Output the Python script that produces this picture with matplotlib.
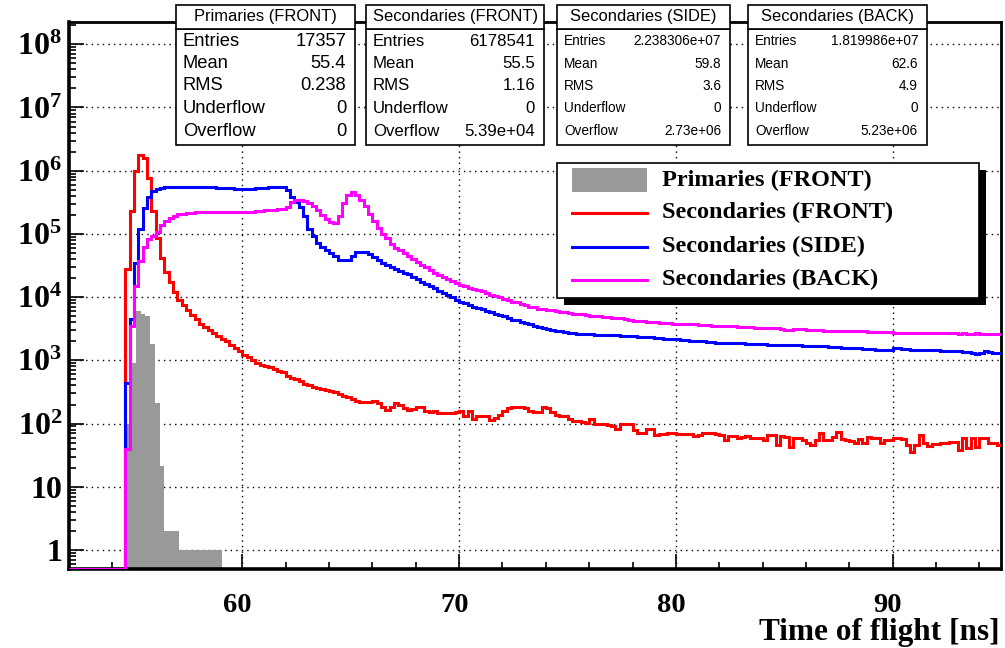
import numpy as np
import matplotlib
matplotlib.use("Agg")
import matplotlib.pyplot as plt
import matplotlib.transforms as mtransforms
from matplotlib.patches import Rectangle
from matplotlib.lines import Line2D
from matplotlib.ticker import FixedLocator, MultipleLocator, LogLocator, NullFormatter, FuncFormatter

plt.rcParams["mathtext.fontset"] = "custom"
plt.rcParams["mathtext.rm"] = "Liberation Serif:bold"
plt.rcParams["mathtext.bf"] = "Liberation Serif:bold"
plt.rcParams["mathtext.default"] = "rm"

# ------------------ data (counts per 0.2 ns bin, first filled bin 54.6 ns) ------------------
t_low = 52.0
bin_w = 0.2
n_empty = 13          # empty bins between 52.0 and 54.6 ns

red_counts = [
    2.8e4, 2.3e5, 1.0e6, 1.8e6, 1.6e6, 7.8e5, 2.3e5, 8.7e4, 4.1e4, 2.5e4,
    1.75e4, 1.2e4, 8.9e3, 7.6e3, 6.3e3, 5.2e3, 4.5e3, 3.8e3, 3.4e3, 3.0e3,
    2.7e3, 2.4e3, 2.2e3, 2.0e3, 1.74e3, 1.55e3, 1.38e3, 1.23e3, 1.12e3, 1.02e3,
    910, 850, 810, 780, 740, 690, 650, 575, 525, 500,
    470, 430, 410, 380, 370, 355, 340, 325, 310, 295,
    275, 265, 245, 230, 220, 220, 220, 225, 215, 185,
    165, 185, 215, 200, 175, 165, 170, 185, 180, 160,
    150, 160, 148, 145, 145, 145, 155, 160, 132, 160,
    120, 132, 132, 132, 112, 123, 138, 158, 178, 186,
    186, 186, 178, 158, 155, 151, 186, 178, 155, 138,
    132, 132, 120, 110, 110, 107, 102, 120, 98, 100,
    100, 95, 93, 83, 100, 100, 98, 79, 71, 71,
    83, 81, 66, 69, 69, 71, 71, 68, 68, 68,
    68, 63, 66, 72, 72, 71, 69, 66, 54, 63,
    63, 60, 62, 63, 60, 60, 60, 54, 66, 66,
    46, 63, 62, 42, 60, 58, 55, 49, 46, 55,
    71, 55, 55, 62, 74, 56, 54, 52, 50, 56,
    50, 62, 60, 60, 49, 54, 54, 60, 58, 56,
    46, 35, 46, 66, 49, 44, 47, 47, 49, 50,
    51, 51, 38, 60, 41, 60, 43, 60, 60, 49,
    49, 46,
]

blue_counts = [
    440, 4.5e3, 3.5e4, 1.2e5, 2.6e5, 3.9e5, 4.7e5, 5.1e5, 5.3e5, 5.5e5,
    5.6e5, 5.6e5, 5.6e5, 5.6e5, 5.6e5, 5.55e5, 5.5e5, 5.5e5, 5.5e5, 5.5e5,
    5.5e5, 5.4e5, 5.4e5, 5.4e5, 5.3e5, 5.2e5, 5.2e5, 5.1e5, 5.1e5, 5.2e5,
    5.3e5, 5.4e5, 5.4e5, 5.5e5, 5.6e5, 5.6e5, 5.5e5, 5.0e5, 3.9e5, 3.2e5,
    2.7e5, 1.9e5, 1.2e5, 9.1e4, 7.2e4, 6.3e4, 5.6e4, 5.0e4, 4.4e4, 3.9e4,
    3.8e4, 3.8e4, 4.4e4, 5.1e4, 5.2e4, 5.1e4, 4.8e4, 4.3e4, 3.8e4, 3.5e4,
    3.2e4, 2.95e4, 2.75e4, 2.6e4, 2.4e4, 2.3e4, 2.1e4, 1.95e4, 1.74e4, 1.6e4,
    1.48e4, 1.38e4, 1.26e4, 1.17e4, 1.07e4, 1.0e4, 9.1e3, 8.5e3, 8.1e3, 7.6e3,
    7.1e3, 6.8e3, 6.5e3, 6.0e3, 5.75e3, 5.4e3, 5.2e3, 5.0e3, 4.7e3, 4.4e3,
    4.3e3, 4.1e3, 3.9e3, 3.7e3, 3.55e3, 3.4e3, 3.25e3, 3.15e3, 3.0e3, 2.95e3,
    2.9e3, 2.8e3, 2.75e3, 2.7e3, 2.65e3, 2.6e3, 2.6e3, 2.6e3, 2.55e3, 2.55e3,
    2.55e3, 2.5e3, 2.5e3, 2.5e3, 2.45e3, 2.45e3, 2.45e3, 2.4e3, 2.35e3, 2.35e3,
    2.3e3, 2.3e3, 2.25e3, 2.25e3, 2.2e3, 2.2e3, 2.15e3, 2.15e3, 2.1e3, 2.1e3,
    2.05e3, 2.05e3, 2.0e3, 2.0e3, 1.95e3, 1.95e3, 1.9e3, 1.9e3, 1.9e3, 1.85e3,
    1.85e3, 1.85e3, 1.85e3, 1.8e3, 1.8e3, 1.8e3, 1.8e3, 1.8e3, 1.78e3, 1.78e3,
    1.78e3, 1.76e3, 1.74e3, 1.74e3, 1.74e3, 1.72e3, 1.7e3, 1.7e3, 1.7e3, 1.68e3,
    1.66e3, 1.66e3, 1.62e3, 1.62e3, 1.62e3, 1.58e3, 1.58e3, 1.55e3, 1.55e3, 1.55e3,
    1.52e3, 1.52e3, 1.5e3, 1.48e3, 1.48e3, 1.48e3, 1.48e3, 1.55e3, 1.55e3, 1.52e3,
    1.5e3, 1.48e3, 1.48e3, 1.48e3, 1.45e3, 1.45e3, 1.44e3, 1.44e3, 1.42e3, 1.42e3,
    1.4e3, 1.38e3, 1.38e3, 1.35e3, 1.35e3, 1.3e3, 1.25e3, 1.32e3, 1.38e3, 1.35e3,
    1.32e3, 1.3e3,
]

magenta_counts = [
    39, 3.5e3, 1.5e4, 3.7e4, 6.3e4, 8.3e4, 9.1e4, 1.07e5, 1.4e5, 1.6e5,
    1.8e5, 1.95e5, 2.05e5, 2.1e5, 2.15e5, 2.15e5, 2.2e5, 2.2e5, 2.2e5, 2.2e5,
    2.2e5, 2.2e5, 2.2e5, 2.2e5, 2.2e5, 2.2e5, 2.2e5, 2.25e5, 2.25e5, 2.25e5,
    2.3e5, 2.3e5, 2.35e5, 2.35e5, 2.4e5, 2.5e5, 2.5e5, 2.7e5, 3.2e5, 3.4e5,
    3.4e5, 3.3e5, 3.1e5, 2.8e5, 2.4e5, 2.0e5, 1.75e5, 1.55e5, 1.5e5, 1.9e5,
    3.1e5, 4.2e5, 4.6e5, 4.2e5, 3.5e5, 2.8e5, 2.1e5, 1.6e5, 1.23e5, 1.0e5,
    8.5e4, 6.9e4, 6.0e4, 5.5e4, 5.0e4, 4.4e4, 4.0e4, 3.55e4, 3.2e4, 2.95e4,
    2.7e4, 2.45e4, 2.25e4, 2.1e4, 1.95e4, 1.8e4, 1.65e4, 1.55e4, 1.48e4, 1.4e4,
    1.35e4, 1.3e4, 1.23e4, 1.17e4, 1.1e4, 1.05e4, 1.0e4, 9.5e3, 8.9e3, 8.5e3,
    8.3e3, 7.8e3, 7.4e3, 7.1e3, 6.9e3, 6.6e3, 6.5e3, 6.3e3, 6.2e3, 6.0e3,
    5.9e3, 5.75e3, 5.6e3, 5.5e3, 5.4e3, 5.4e3, 5.25e3, 5.1e3, 5.0e3, 5.0e3,
    4.9e3, 4.8e3, 4.7e3, 4.7e3, 4.6e3, 4.45e3, 4.35e3, 4.25e3, 4.2e3, 4.15e3,
    4.1e3, 4.05e3, 4.0e3, 3.95e3, 3.9e3, 3.9e3, 3.8e3, 3.8e3, 3.8e3, 3.7e3,
    3.7e3, 3.7e3, 3.65e3, 3.6e3, 3.6e3, 3.55e3, 3.55e3, 3.55e3, 3.5e3, 3.5e3,
    3.45e3, 3.4e3, 3.4e3, 3.4e3, 3.35e3, 3.3e3, 3.3e3, 3.25e3, 3.25e3, 3.25e3,
    3.2e3, 3.1e3, 3.05e3, 3.0e3, 3.1e3, 3.1e3, 3.1e3, 3.05e3, 3.05e3, 3.0e3,
    3.0e3, 2.95e3, 2.95e3, 2.95e3, 2.95e3, 2.9e3, 2.9e3, 2.9e3, 2.9e3, 2.9e3,
    2.9e3, 2.85e3, 2.85e3, 2.8e3, 2.8e3, 2.8e3, 2.8e3, 2.75e3, 2.75e3, 2.75e3,
    2.75e3, 2.75e3, 2.72e3, 2.7e3, 2.7e3, 2.7e3, 2.68e3, 2.68e3, 2.7e3, 2.7e3,
    2.68e3, 2.68e3, 2.65e3, 2.7e3, 2.65e3, 2.62e3, 2.68e3, 2.65e3, 2.62e3, 2.62e3,
    2.6e3, 2.6e3,
]

# primaries use their own binning
prim_low = 54.64
prim_w = 0.22
prim_counts = [100, 900, 6000, 5500, 5000, 1800, 210, 21, 2, 2, 2, 1, 1, 1, 1, 1, 1, 1, 1, 1]

labels = ["Primaries (FRONT)", "Secondaries (FRONT)", "Secondaries (SIDE)", "Secondaries (BACK)"]
colors = ["#999999", "#ff0000", "#0000ff", "#ff00ff"]
stat_rows = ["Entries", "Mean", "RMS", "Underflow", "Overflow"]
stat_values = [
    ["17357", "55.4", "0.238", "0", "0"],
    ["6178541", "55.5", "1.16", "0", "5.39e+04"],
    ["2.238306e+07", "59.8", "3.6", "0", "2.73e+06"],
    ["1.819986e+07", "62.6", "4.9", "0", "5.23e+06"],
]

# ------------------ figure ------------------
W, H = 1005, 648
fig = plt.figure(figsize=(W / 100, H / 100), dpi=100)
ax = fig.add_axes([69 / W, 1 - 569 / H, (1001 - 69) / W, (569 - 22) / H])


def fx(x):
    return x / W


def fy(y):
    return 1 - y / H


ymin, ymax = 0.5, 2.25e8
ax.set_xlim(52, 95)
ax.set_yscale("log")
ax.set_ylim(ymin, ymax)

# primaries: grey filled histogram
p_edges = prim_low + prim_w * np.arange(len(prim_counts) + 1)
ax.stairs(prim_counts, p_edges, fill=True, baseline=ymin, color=colors[0], zorder=2)

# secondaries: line histograms, empty bins drawn on the frame bottom like ROOT does
for counts, col in zip([red_counts, blue_counts, magenta_counts], colors[1:]):
    vals = np.concatenate([np.zeros(n_empty), np.array(counts, dtype=float)])
    vals = np.where(vals > 0, vals, ymin)
    edges = t_low + bin_w * np.arange(len(vals) + 1)
    ax.stairs(vals, edges, baseline=None, color=col, lw=2.2, zorder=3)

# axes styling (ROOT-like)
ax.xaxis.set_major_locator(MultipleLocator(10))
ax.xaxis.set_minor_locator(MultipleLocator(2))
ax.yaxis.set_major_locator(FixedLocator([10.0 ** k for k in range(9)]))
ax.yaxis.set_minor_locator(LogLocator(base=10, subs=np.arange(2, 10)))
ax.yaxis.set_minor_formatter(NullFormatter())


def ylab(v, pos):
    k = int(round(np.log10(v)))
    if k == 0:
        return "1"
    if k == 1:
        return "10"
    return r"$10^{%d}$" % k


ax.yaxis.set_major_formatter(FuncFormatter(ylab))
ax.tick_params(which="both", direction="in", top=False, right=False, width=1.2)
ax.tick_params(which="major", length=11)
ax.tick_params(which="minor", length=5)
ax.tick_params(axis="y", pad=5)
ax.tick_params(axis="x", pad=17)
for lab in ax.get_yticklabels():
    lab.set_fontfamily("Liberation Serif")
    lab.set_fontweight("bold")
    lab.set_fontsize(23)
shift = mtransforms.ScaledTranslation(-5 / 100, 0, fig.dpi_scale_trans)
for lab in ax.get_xticklabels():
    lab.set_fontfamily("Liberation Serif")
    lab.set_fontweight("bold")
    lab.set_fontsize(20.5)
    lab.set_transform(lab.get_transform() + shift)
for s in ax.spines.values():
    s.set_linewidth(2)
ax.spines["left"].set_linewidth(2.6)
ax.spines["bottom"].set_linewidth(2.6)

ax.grid(True, which="major", color="black", linestyle=(0, (1, 3)), lw=1)
ax.set_axisbelow(True)

ax.set_xlabel("Time of flight [ns]", fontsize=22.5, fontweight="bold",
              family="Liberation Serif", ha="right", va="baseline")
ax.xaxis.set_label_coords(0.999, -(640 - 569) / 547)

# legend box with a solid black shadow (drawn in pixel positions of the frame)
leg_l, leg_r, leg_t, leg_b = 557, 979, 163, 298
shadow = 7
fig.add_artist(Rectangle((fx(leg_l + shadow), fy(leg_b + shadow)), fx(leg_r) - fx(leg_l),
                         fy(leg_t) - fy(leg_b), transform=fig.transFigure,
                         facecolor="black", edgecolor="none", zorder=4))
fig.add_artist(Rectangle((fx(leg_l), fy(leg_b)), fx(leg_r) - fx(leg_l), fy(leg_t) - fy(leg_b),
                         transform=fig.transFigure, facecolor="white", edgecolor="black",
                         lw=1.2, zorder=4.1))
row_text_y = [180, 212, 246, 279]
row_line_y = [180, 213, 247, 280]
for k in range(4):
    if k == 0:
        fig.add_artist(Rectangle((fx(572), fy(192)), fx(647) - fx(572), fy(168) - fy(192),
                                 transform=fig.transFigure, facecolor=colors[0],
                                 edgecolor="none", zorder=4.2))
    else:
        fig.add_artist(Line2D([fx(572), fx(647)], [fy(row_line_y[k])] * 2,
                              transform=fig.transFigure, color=colors[k], lw=2.2, zorder=4.2))
    fig.text(fx(662), fy(row_text_y[k]), labels[k], ha="left", va="center",
             family="Liberation Serif", fontweight="bold", fontsize=17.5, zorder=4.3)

# statistics boxes above the frame
box_left = [176, 366, 557, 748]
box_right = [355, 544, 730, 927]
body_size = [13.2, 12.1, 9.8, 9.8]
title_top, title_bot, body_bot = 5, 29, 145
row_y = [41, 63.5, 86, 108.5, 131]

for i in range(4):
    l, r = box_left[i], box_right[i]
    fig.add_artist(Rectangle((fx(l), fy(body_bot)), fx(r) - fx(l), fy(title_bot) - fy(body_bot),
                             transform=fig.transFigure, facecolor="white", edgecolor="black",
                             lw=1.2, zorder=4))
    fig.add_artist(Rectangle((fx(l), fy(title_bot)), fx(r) - fx(l), fy(title_top) - fy(title_bot),
                             transform=fig.transFigure, facecolor="white", edgecolor="black",
                             lw=1.2, zorder=4))
    fig.text(fx((l + r) / 2), fy((title_top + title_bot) / 2), labels[i], ha="center", va="center",
             family="Liberation Sans", fontsize=11.9, zorder=5)
    for j, row in enumerate(stat_rows):
        fig.text(fx(l + 7), fy(row_y[j]), row, ha="left", va="center",
                 family="Liberation Sans", fontsize=body_size[i], zorder=5)
        fig.text(fx(r - 9), fy(row_y[j]), stat_values[i][j], ha="right", va="center",
                 family="Liberation Sans", fontsize=body_size[i], zorder=5)

fig.savefig("out.png", dpi=100)
